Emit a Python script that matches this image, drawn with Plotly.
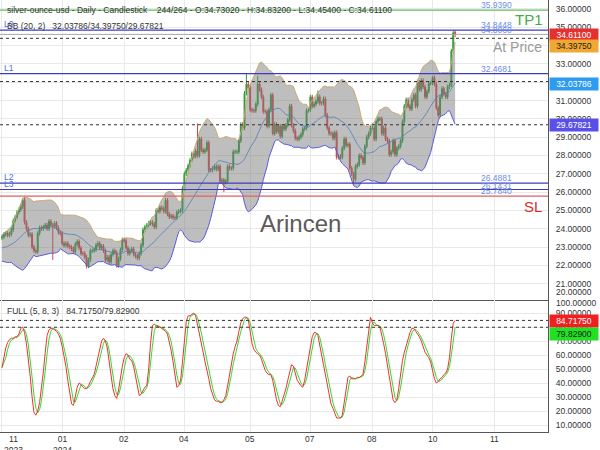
import numpy as np
import pandas as pd
import plotly.graph_objects as go
from plotly.subplots import make_subplots

# ---------------- data ----------------
# closes before the first visible bar (only used to warm up the Bollinger bands)
warmup_closes = [23.40, 23.00, 22.90, 22.85, 22.80, 23.10, 23.30, 22.90, 23.00, 23.10,
                 23.30, 22.90, 22.60, 22.50, 22.60, 22.25, 22.30, 23.20, 23.50]

# daily closes, 2023-11-16 .. 2024-10-22
closes_nov23 = [23.55, 23.70, 23.75, 23.65, 23.70, 23.95, 24.45, 24.65, 24.90, 25.05, 25.20]
closes_dec23 = [25.55, 24.35, 24.00, 23.65, 23.70, 23.00, 22.80, 22.75, 23.75, 24.05,
                24.00, 24.10, 24.20, 24.00, 24.40, 24.20, 24.15, 24.30, 24.05, 23.80]
closes_jan24 = [23.75, 23.20, 23.10, 23.20, 23.05, 23.00, 22.90, 22.75, 23.15, 23.30,
                22.95, 22.65, 22.65, 22.45, 21.95, 22.30, 22.80, 22.80, 22.85, 23.10,
                23.20, 22.95]
closes_feb24 = [23.05, 22.80, 22.30, 22.45, 22.20, 22.60, 22.80, 22.70, 22.00, 22.35,
                22.85, 23.40, 23.35, 22.95, 22.65, 22.80, 22.90, 22.60, 22.50, 22.40, 22.65]
closes_mar24 = [23.10, 23.95, 24.10, 24.20, 24.30, 24.35, 24.25, 24.10, 25.00, 24.95,
                25.15, 25.10, 24.95, 25.55, 24.80, 24.65, 24.70, 24.60, 24.60, 24.90, 24.95]
closes_apr24 = [25.00, 26.20, 27.00, 27.20, 27.45, 27.75, 28.10, 27.95, 28.25, 28.00,
                28.90, 28.30, 28.20, 28.30, 28.70, 27.20, 27.20, 27.30, 27.40, 27.25,
                27.40, 26.60]
closes_may24 = [26.65, 26.55, 26.60, 27.40, 27.30, 27.30, 28.20, 28.20, 28.20, 28.80,
                29.70, 29.50, 31.40, 31.90, 31.70, 30.50, 30.45, 30.45, 30.80, 31.90,
                31.60, 31.20, 30.40]
closes_jun24 = [30.40, 29.60, 30.50, 31.30, 29.20, 29.70, 29.30, 29.60, 29.05, 29.60,
                29.45, 29.65, 29.95, 30.70, 29.65, 29.35, 28.95, 28.90, 29.00, 29.15]
closes_jul24 = [29.45, 29.50, 30.45, 30.50, 31.20, 30.70, 30.80, 30.95, 31.20, 30.85,
                30.85, 31.10, 30.20, 29.50, 29.20, 29.20, 28.95, 29.25, 27.90, 27.95,
                27.90, 28.40, 28.90]
closes_aug24 = [28.55, 28.60, 27.30, 27.00, 26.70, 27.40, 27.50, 28.00, 27.90, 27.60,
                28.50, 29.00, 29.20, 29.50, 29.50, 28.90, 29.85, 30.00, 30.00, 29.20,
                29.50, 28.90]
closes_sep24 = [28.80, 28.05, 28.20, 28.80, 28.05, 28.40, 28.50, 28.80, 29.85, 30.70,
                31.05, 30.70, 30.55, 31.05, 31.30, 30.70, 32.00, 31.60, 32.10, 31.75, 31.20]
closes_oct24 = [31.50, 31.95, 31.95, 32.25, 31.90, 30.60, 30.20, 31.20, 31.65, 31.35,
                31.20, 31.75, 31.85, 33.70, 34.70, 34.611]

# notable wicks (bar index -> price)
spike_highs = {11: 25.65, 12: 25.75, 104: 29.75, 130: 32.45, 136: 32.35, 168: 31.55,
               221: 32.15, 229: 32.35}
spike_lows = {27: 22.30, 46: 21.85, 118: 26.00, 187: 26.40, 144: 29.10}
last_bar = {"open": 34.73020, "high": 34.83200, "low": 34.45400, "close": 34.61100}
wick_pad = 0.12

# Full stochastic %K
stoch_k = [51, 58, 65, 69, 71, 72, 72, 73, 73, 75, 79, 80, 76, 68, 58, 45, 30, 19, 17, 20,
           26, 36, 48, 62, 74, 78, 79, 79, 78, 77, 75, 72, 66, 59, 52, 42, 32, 25, 24, 30,
           37, 40, 39, 37, 36, 36, 38, 41, 44, 46, 52, 58, 63, 70, 72, 70, 65, 55, 44, 36,
           31, 29, 35, 45, 52, 58, 61, 60, 57, 56, 52, 45, 37, 31, 32, 35, 37, 38, 50, 68,
           81, 82, 81, 80, 80, 79, 78, 77, 75, 70, 63, 55, 45, 37, 38, 42, 55, 72, 84, 88,
           88, 89, 90, 88, 82, 76, 70, 62, 55, 50, 43, 36, 31, 28, 27, 27, 26, 26, 28, 31,
           38, 46, 54, 61, 66, 70, 77, 83, 86, 87, 87, 85, 77, 68, 64, 62, 61, 60, 57, 53,
           49, 47, 46, 46, 42, 35, 28, 24, 23, 27, 31, 36, 42, 48, 53, 52, 47, 42, 40, 38,
           37, 42, 50, 58, 66, 73, 76, 76, 74, 68, 60, 53, 46, 38, 31, 25, 22, 18, 15, 15,
           15, 17, 26, 37, 44, 45, 43, 43, 43, 44, 44, 45, 46, 55, 67, 78, 87, 83, 81, 81,
           81, 80, 75, 68, 61, 52, 43, 35, 28, 26, 28, 36, 47, 56, 62, 67, 72, 76, 79, 79,
           77, 75, 73, 70, 66, 62, 60, 58, 55, 49, 43, 40, 41, 43, 44, 46, 47, 50, 58, 72,
           82.77, 84.7175]

bb_last = {"mid": 32.03786, "upper": 34.39750, "lower": 29.67821}
stoch_last = {"k": 84.71750, "d": 79.82900}

levels = {"TP1": 35.9390, "L0": 34.8448, "L0b": 34.8060, "L1": 32.4681,
          "L2": 26.4881, "L3": 26.1431, "SL": 25.7840}

tick_dates = ["2023-11-16", "2024-01-03", "2024-02-19", "2024-04-03", "2024-05-22",
              "2024-07-05", "2024-08-21", "2024-10-04", "2024-11-20"]

# ---------------- derived ----------------
closes = (closes_nov23 + closes_dec23 + closes_jan24 + closes_feb24 + closes_mar24 +
          closes_apr24 + closes_may24 + closes_jun24 + closes_jul24 + closes_aug24 +
          closes_sep24 + closes_oct24)
n = len(closes)
x = np.arange(n)
opens = [warmup_closes[-1]] + closes[:-1]
opens[-1] = last_bar["open"]
highs = [max(o, c) + wick_pad for o, c in zip(opens, closes)]
lows = [min(o, c) - wick_pad for o, c in zip(opens, closes)]
for i, v in spike_highs.items():
    highs[i] = v
for i, v in spike_lows.items():
    lows[i] = v
highs[-1] = last_bar["high"]
lows[-1] = last_bar["low"]

allc = pd.Series(warmup_closes + closes)
mid = allc.rolling(20).mean().iloc[len(warmup_closes):].values
sd = allc.rolling(20).std(ddof=0).iloc[len(warmup_closes):].values
upper = mid + 2 * sd
lower = mid - 2 * sd

stoch_d = pd.Series(stoch_k).rolling(3, min_periods=1).mean().values

all_dates = pd.bdate_range("2023-11-16", periods=320, freq="C",
                           holidays=["2023-12-25", "2024-01-01"])
tick_idx = [int(all_dates.get_loc(pd.Timestamp(d))) for d in tick_dates]

# ---------------- figure ----------------
FONT = "Liberation Sans, Arial, sans-serif"
PLOT_H = 432.0
def py(pix):
    return (PLOT_H - pix) / PLOT_H

fig = make_subplots(rows=2, cols=1, shared_xaxes=True, vertical_spacing=0,
                    row_heights=[300 / 432, 132 / 432])

fig.add_trace(go.Scatter(x=x, y=upper, mode="lines", line=dict(color="#c9ab72", width=1),
                         hoverinfo="skip"), row=1, col=1)
fig.add_trace(go.Scatter(x=x, y=lower, mode="lines", line=dict(color="#5b5be0", width=1),
                         fill="tonexty", fillcolor="rgba(120,120,120,0.48)",
                         hoverinfo="skip"), row=1, col=1)
fig.add_trace(go.Scatter(x=x, y=mid, mode="lines", line=dict(color="#4f7fb8", width=0.8),
                         hoverinfo="skip"), row=1, col=1)
fig.add_trace(go.Candlestick(x=x, open=opens, high=highs, low=lows, close=closes,
                             increasing=dict(line=dict(color="#2f9e3f", width=1),
                                             fillcolor="#2f9e3f"),
                             decreasing=dict(line=dict(color="#d2484a", width=1),
                                             fillcolor="#d2484a"),
                             whiskerwidth=0), row=1, col=1)

fig.add_trace(go.Scatter(x=x, y=stoch_d, mode="lines", line=dict(color="#2fdc2f", width=1),
                         hoverinfo="skip"), row=2, col=1)
fig.add_trace(go.Scatter(x=x, y=stoch_k, mode="lines", line=dict(color="#f03030", width=1),
                         hoverinfo="skip"), row=2, col=1)

shapes = []
def hline(y, color, width=1.2, dash="solid", yref="y"):
    shapes.append(dict(type="line", xref="x domain", x0=0, x1=1, yref=yref, y0=y, y1=y,
                       line=dict(color=color, width=width, dash=dash)))

DASH = "3px,3px"
hline(levels["TP1"], "#63bd63")
hline(levels["L0"], "#3c3cbf")
hline(last_bar["close"], "#a8a8a8", 1)
hline(levels["L1"], "#3c3cbf")
hline(levels["L2"], "#3c3cbf")
hline(levels["L3"], "#3c3cbf")
hline(levels["SL"], "#e26060")
for v in bb_last.values():
    hline(v, "#333333", 1, DASH)
hline(stoch_last["k"], "#333333", 1, DASH, "y2")
hline(stoch_last["d"], "#333333", 1, DASH, "y2")

ann = []
lvl_font = dict(family=FONT, size=8.5, color="#6f8de6")
for key, txt in [("TP1", "35.9390"), ("L0", "34.8448"), ("L1", "32.4681"),
                 ("L2", "26.4881"), ("SL", "25.7840")]:
    ann.append(dict(xref="paper", x=0.937, xanchor="right", yref="y", y=levels[key],
                    yanchor="bottom", yshift=-1, borderpad=0, text=txt, showarrow=False,
                    font=lvl_font))
ann.append(dict(xref="paper", x=0.937, xanchor="right", yref="y", y=levels["L0b"],
                yanchor="bottom", yshift=-5, borderpad=0, text="34.8060", showarrow=False,
                font=lvl_font))
ann.append(dict(xref="paper", x=0.937, xanchor="right", yref="y", y=levels["L3"],
                yanchor="bottom", yshift=-2, borderpad=0, text="26.1431", showarrow=False,
                font=lvl_font))

for key in ["L0", "L1", "L2", "L3"]:
    ann.append(dict(xref="paper", x=0, xshift=3, xanchor="left", yref="y", y=levels[key],
                    yanchor="bottom", borderpad=0, text=key, showarrow=False,
                    font=dict(family=FONT, size=8.5, color="#4a6ee0")))

ann.append(dict(xref="paper", x=0.995, xanchor="right", yref="y", y=levels["TP1"],
                yanchor="top", yshift=1, text="TP1", showarrow=False,
                font=dict(family=FONT, size=15, color="#3fae3f")))
ann.append(dict(xref="paper", x=0.993, xanchor="right", yref="y", y=last_bar["close"],
                yanchor="top", yshift=-3, text="At Price", showarrow=False,
                font=dict(family=FONT, size=14, color="#9a9a9a")))
ann.append(dict(xref="paper", x=0.992, xanchor="right", yref="y", y=levels["SL"],
                yanchor="top", yshift=0, text="SL", showarrow=False,
                font=dict(family=FONT, size=15, color="#e02a2a")))

ann.append(dict(xref="paper", x=0.47, xanchor="left", yref="paper", y=py(223),
                yanchor="middle", text="Arincen", showarrow=False,
                font=dict(family=FONT, size=24, color="#5a5a5a")))

hdr = dict(family=FONT, size=8.5, color="#333333")
ann.append(dict(xref="paper", x=0, xshift=5, xanchor="left", yref="paper", y=py(10),
                yanchor="middle",
                text="silver-ounce-usd - Daily - Candlestick    244/264 - O:34.73020 - "
                     "H:34.83200 - L:34.45400 - C:34.61100",
                showarrow=False, font=hdr))
ann.append(dict(xref="paper", x=0, xshift=5, xanchor="left", yref="paper", y=py(26),
                yanchor="middle", text="BB (20, 2)   %.5f/%.5f/%.5f" %
                (bb_last["mid"], bb_last["upper"], bb_last["lower"]),
                showarrow=False, font=hdr))
ann.append(dict(xref="paper", x=0, xshift=5, xanchor="left", yref="paper", y=py(311),
                yanchor="middle", text="FULL (5, 8, 3)   %.5f/%.5f" %
                (stoch_last["k"], stoch_last["d"]), showarrow=False, font=hdr))

def box(val, yref, bg, fg, shift=0):
    ann.append(dict(xref="paper", x=1, xshift=1, xanchor="left", yref=yref, y=val,
                    yanchor="middle", yshift=shift, text="%.5f" % val, showarrow=False,
                    bgcolor=bg, borderpad=1, width=46,
                    font=dict(family=FONT, size=8.5, color=fg)))

box(last_bar["close"], "y", "#e53030", "#ffffff", -1)
box(bb_last["upper"], "y", "#f0a830", "#222222", -8)
box(bb_last["mid"], "y", "#2d9bf0", "#ffffff", -2)
box(bb_last["lower"], "y", "#5a50e6", "#ffffff", 0)
box(stoch_last["k"], "y2", "#f02020", "#ffffff", -1)
box(stoch_last["d"], "y2", "#22e022", "#222222", -7)

axfont = dict(family=FONT, size=8.5, color="#333333")
ann.append(dict(xref="paper", x=1, xshift=6, xanchor="left", yref="paper", y=py(292),
                yanchor="middle", text="20.00000", showarrow=False, font=axfont))
ann.append(dict(xref="paper", x=1, xshift=6, xanchor="left", yref="paper", y=py(303),
                yanchor="middle", text="100.00000", showarrow=False, font=axfont))

prev_year = None
for k, (ti, td) in enumerate(zip(tick_idx, tick_dates)):
    d = pd.Timestamp(td)
    txt = d.strftime("%m")
    if prev_year is None or d.year != prev_year:
        txt += "<br>%d" % d.year
    prev_year = d.year
    ann.append(dict(xref="x2", x=ti, xanchor="left" if k == 0 else "center",
                    yref="paper", y=0, yanchor="top", yshift=0, text=txt,
                    showarrow=False, font=axfont))

xr = [-1.06, 290.4]
fig.update_xaxes(range=xr, showgrid=True, gridcolor="#e9e9e9", gridwidth=1,
                 tickvals=tick_idx, showticklabels=False, zeroline=False,
                 showline=True, linecolor="#555555", linewidth=1, ticks="",
                 rangeslider=dict(visible=False))
fig.update_yaxes(side="right", showgrid=True, gridcolor="#e9e9e9", zeroline=False,
                 showline=True, linecolor="#555555", linewidth=1, ticks="",
                 tickfont=axfont, ticklabelstandoff=5)
fig.update_yaxes(range=[20.11, 36.49], tickvals=list(range(21, 37)),
                 ticktext=["%.5f" % v for v in range(21, 37)], row=1, col=1)
fig.update_yaxes(range=[5.0, 99.3], tickvals=list(range(10, 100, 10)),
                 ticktext=["%.5f" % v for v in range(10, 100, 10)], row=2, col=1)

fig.update_layout(width=600, height=450, margin=dict(l=0, r=52, t=0, b=18),
                  paper_bgcolor="white", plot_bgcolor="white", showlegend=False,
                  shapes=shapes, annotations=ann, font=dict(family=FONT))

fig.write_html("out.html")
